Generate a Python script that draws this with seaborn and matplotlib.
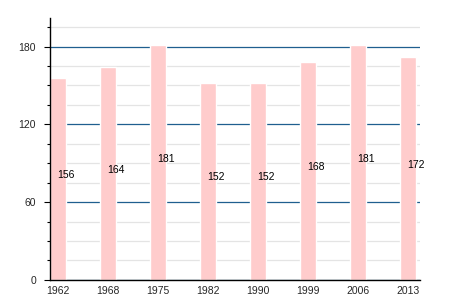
import matplotlib
matplotlib.use("Agg")
import matplotlib.pyplot as plt
import seaborn as sns
import pandas as pd
from matplotlib.ticker import MultipleLocator, FixedLocator

years = ["1962", "1968", "1975", "1982", "1990", "1999", "2006", "2013"]
values = [156, 164, 181, 152, 152, 168, 181, 172]

sns.set_style("white")
plt.rcParams['font.family'] = ['Liberation Sans', 'DejaVu Sans']

fig = plt.figure(figsize=(4.5, 3), dpi=100)
ax = fig.add_axes([0.111, 0.067, 0.822, 0.873])

df = pd.DataFrame({"year": years, "value": values})
sns.barplot(data=df, x="year", y="value", color="#ffcccc", saturation=1,
            width=0.32, ax=ax, zorder=3)

ax.set_xlim(-0.16, 7.24)
ax.set_ylim(0, 202)
ax.yaxis.set_major_locator(MultipleLocator(60))
ax.yaxis.set_minor_locator(FixedLocator([15, 30, 45, 75, 90, 105, 135, 150, 165, 195]))
ax.grid(True, which="minor", axis="y", color="#e4e4e4", linewidth=0.9, zorder=0)
ax.grid(True, which="major", axis="y", color="#1f5f8f", linewidth=0.9, zorder=1)
ax.set_axisbelow(True)

for s in ["top", "right"]:
    ax.spines[s].set_visible(False)
for s in ["left", "bottom"]:
    ax.spines[s].set_color("black")
    ax.spines[s].set_linewidth(1.0)
    ax.spines[s].set_zorder(10)

ax.tick_params(axis="y", which="major", left=True, length=4, width=0.8,
               labelsize=7.5, color="black", pad=6)
ax.tick_params(axis="y", which="minor", left=True, length=2, width=0.8, color="black")
ax.tick_params(axis="x", bottom=False, labelsize=7.5, pad=1)
ax.set_xlabel("")
ax.set_ylabel("")

for i, v in enumerate(values):
    ax.text(i + 0.16, v / 2 + 3, str(v), ha="center", va="center",
            fontsize=7.5, color="black", zorder=5)

fig.savefig("out.png", dpi=100)
